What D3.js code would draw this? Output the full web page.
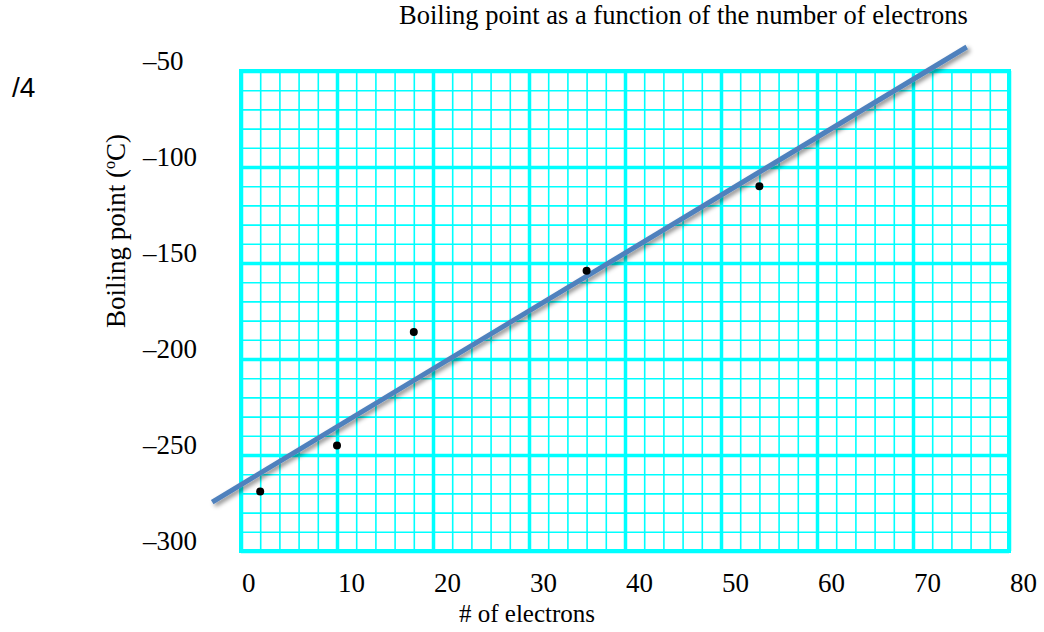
<!DOCTYPE html>
<html>
<head>
<meta charset="utf-8">
<script src="https://cdn.jsdelivr.net/npm/d3@7"></script>
<style>
  body { margin: 0; background: #ffffff; }
  text { font-family: "Liberation Serif", "Times New Roman", serif; fill: #000; }
</style>
</head>
<body>
<svg id="chart"></svg>
<script>
/////////////////////////////////////////////////////////////////
// Data (noble gases)
/////////////////////////////////////////////////////////////////

var electrons    = [2, 10, 18, 36, 54];
var boilingPoint = [-269, -245, -186, -154, -110];

// end points of the drawn trend line
var trendX = [-3, 75.6];
var trendY = [-274.5, -37.5];

var xTicks = [0, 10, 20, 30, 40, 50, 60, 70, 80];
var yTicks = [-50, -100, -150, -200, -250, -300];

var w = 1044;
var h = 632;

// plot box
var boxLeft = 241, boxRight = 1009, boxTop = 71, boxBottom = 551;

var svg = d3.select("#chart")
    .attr("width", w)
    .attr("height", h);

var xScale = d3.scaleLinear().domain([0, 80]).range([boxLeft, boxRight]);
var yScale = d3.scaleLinear().domain([-300, -50]).range([boxBottom, boxTop]);

var cyan = "#00ffff";

/////////////////////////////////////////////////////////////////
// Graph paper grid
/////////////////////////////////////////////////////////////////

var grid = svg.append("g").attr("class", "grid");

// minor lines: every 2 electrons, every 10 degrees
grid.append("g")
    .attr("transform", "translate(0," + boxBottom + ")")
    .call(d3.axisBottom(xScale).ticks(40).tickSize(-(boxBottom - boxTop)).tickFormat(""))
    .call(g => g.select(".domain").remove())
    .selectAll("line").attr("stroke", cyan).attr("stroke-width", 1.6);

grid.append("g")
    .attr("transform", "translate(" + boxLeft + ",0)")
    .call(d3.axisLeft(yScale).ticks(25).tickSize(-(boxRight - boxLeft)).tickFormat(""))
    .call(g => g.select(".domain").remove())
    .selectAll("line").attr("stroke", cyan).attr("stroke-width", 1.6);

// major lines
grid.append("g")
    .attr("transform", "translate(0," + boxBottom + ")")
    .call(d3.axisBottom(xScale).tickValues(xTicks).tickSize(-(boxBottom - boxTop)).tickFormat(""))
    .call(g => g.select(".domain").remove())
    .selectAll("line").attr("stroke", cyan).attr("stroke-width", 3.5);

grid.append("g")
    .attr("transform", "translate(" + boxLeft + ",0)")
    .call(d3.axisLeft(yScale).tickValues(yTicks).tickSize(-(boxRight - boxLeft)).tickFormat(""))
    .call(g => g.select(".domain").remove())
    .selectAll("line").attr("stroke", cyan).attr("stroke-width", 3.5);

// border
grid.append("rect")
    .attr("x", boxLeft).attr("y", boxTop)
    .attr("width", boxRight - boxLeft).attr("height", boxBottom - boxTop)
    .attr("fill", "none")
    .attr("stroke", cyan)
    .attr("stroke-width", 4);

/////////////////////////////////////////////////////////////////
// Tick labels (as placed in the original, shifted from the grid)
/////////////////////////////////////////////////////////////////

svg.append("g").selectAll("text")
    .data(xTicks)
    .join("text")
    .attr("x", d => xScale(d) + 1)
    .attr("y", 592)
    .style("font-size", "27px")
    .text(d => d);

svg.append("g").selectAll("text")
    .data(yTicks)
    .join("text")
    .attr("x", 143)
    .attr("y", d => yScale(d) - 1)
    .style("font-size", "27px")
    .text(d => "\u2013" + Math.abs(d));

/////////////////////////////////////////////////////////////////
// Trend line with shadow, then the points
/////////////////////////////////////////////////////////////////

var defs = svg.append("defs");
defs.append("filter")
    .attr("id", "shadow")
    .attr("x", "-10%").attr("y", "-10%")
    .attr("width", "120%").attr("height", "120%")
  .append("feDropShadow")
    .attr("dx", 2.5).attr("dy", 2.5)
    .attr("stdDeviation", 2)
    .attr("flood-color", "#000")
    .attr("flood-opacity", 0.45);

var trend = trendX.map((x, i) => ({x: x, y: trendY[i]}));

var line = d3.line()
    .x(d => xScale(d.x))
    .y(d => yScale(d.y));

svg.append("path")
    .datum(trend)
    .attr("d", line)
    .attr("fill", "none")
    .attr("stroke", "#4f81bd")
    .attr("stroke-width", 5)
    .attr("filter", "url(#shadow)");

svg.append("g").selectAll("circle")
    .data(electrons)
    .join("circle")
    .attr("cx", d => xScale(d))
    .attr("cy", (d, i) => yScale(boilingPoint[i]))
    .attr("r", 4)
    .attr("fill", "#000");

/////////////////////////////////////////////////////////////////
// Titles
/////////////////////////////////////////////////////////////////

svg.append("text")
    .attr("x", 399)
    .attr("y", 24)
    .style("font-size", "26.5px")
    .text("Boiling point as a function of the number of electrons");

svg.append("text")
    .attr("x", 527)
    .attr("y", 622)
    .style("text-anchor", "middle")
    .style("font-size", "25px")
    .text("# of electrons");

var yTitle = svg.append("text")
    .attr("transform", "translate(125,328) rotate(-90)")
    .style("font-size", "27px");
yTitle.append("tspan").text("Boiling point (");
yTitle.append("tspan").attr("dy", -10).style("font-size", "16px").text("o");
yTitle.append("tspan").attr("dy", 10).text("C)");

svg.append("text")
    .attr("x", 12)
    .attr("y", 97)
    .style("font-family", "'Liberation Sans', Arial, sans-serif")
    .style("font-size", "28px")
    .text("/4");
</script>
</body>
</html>
